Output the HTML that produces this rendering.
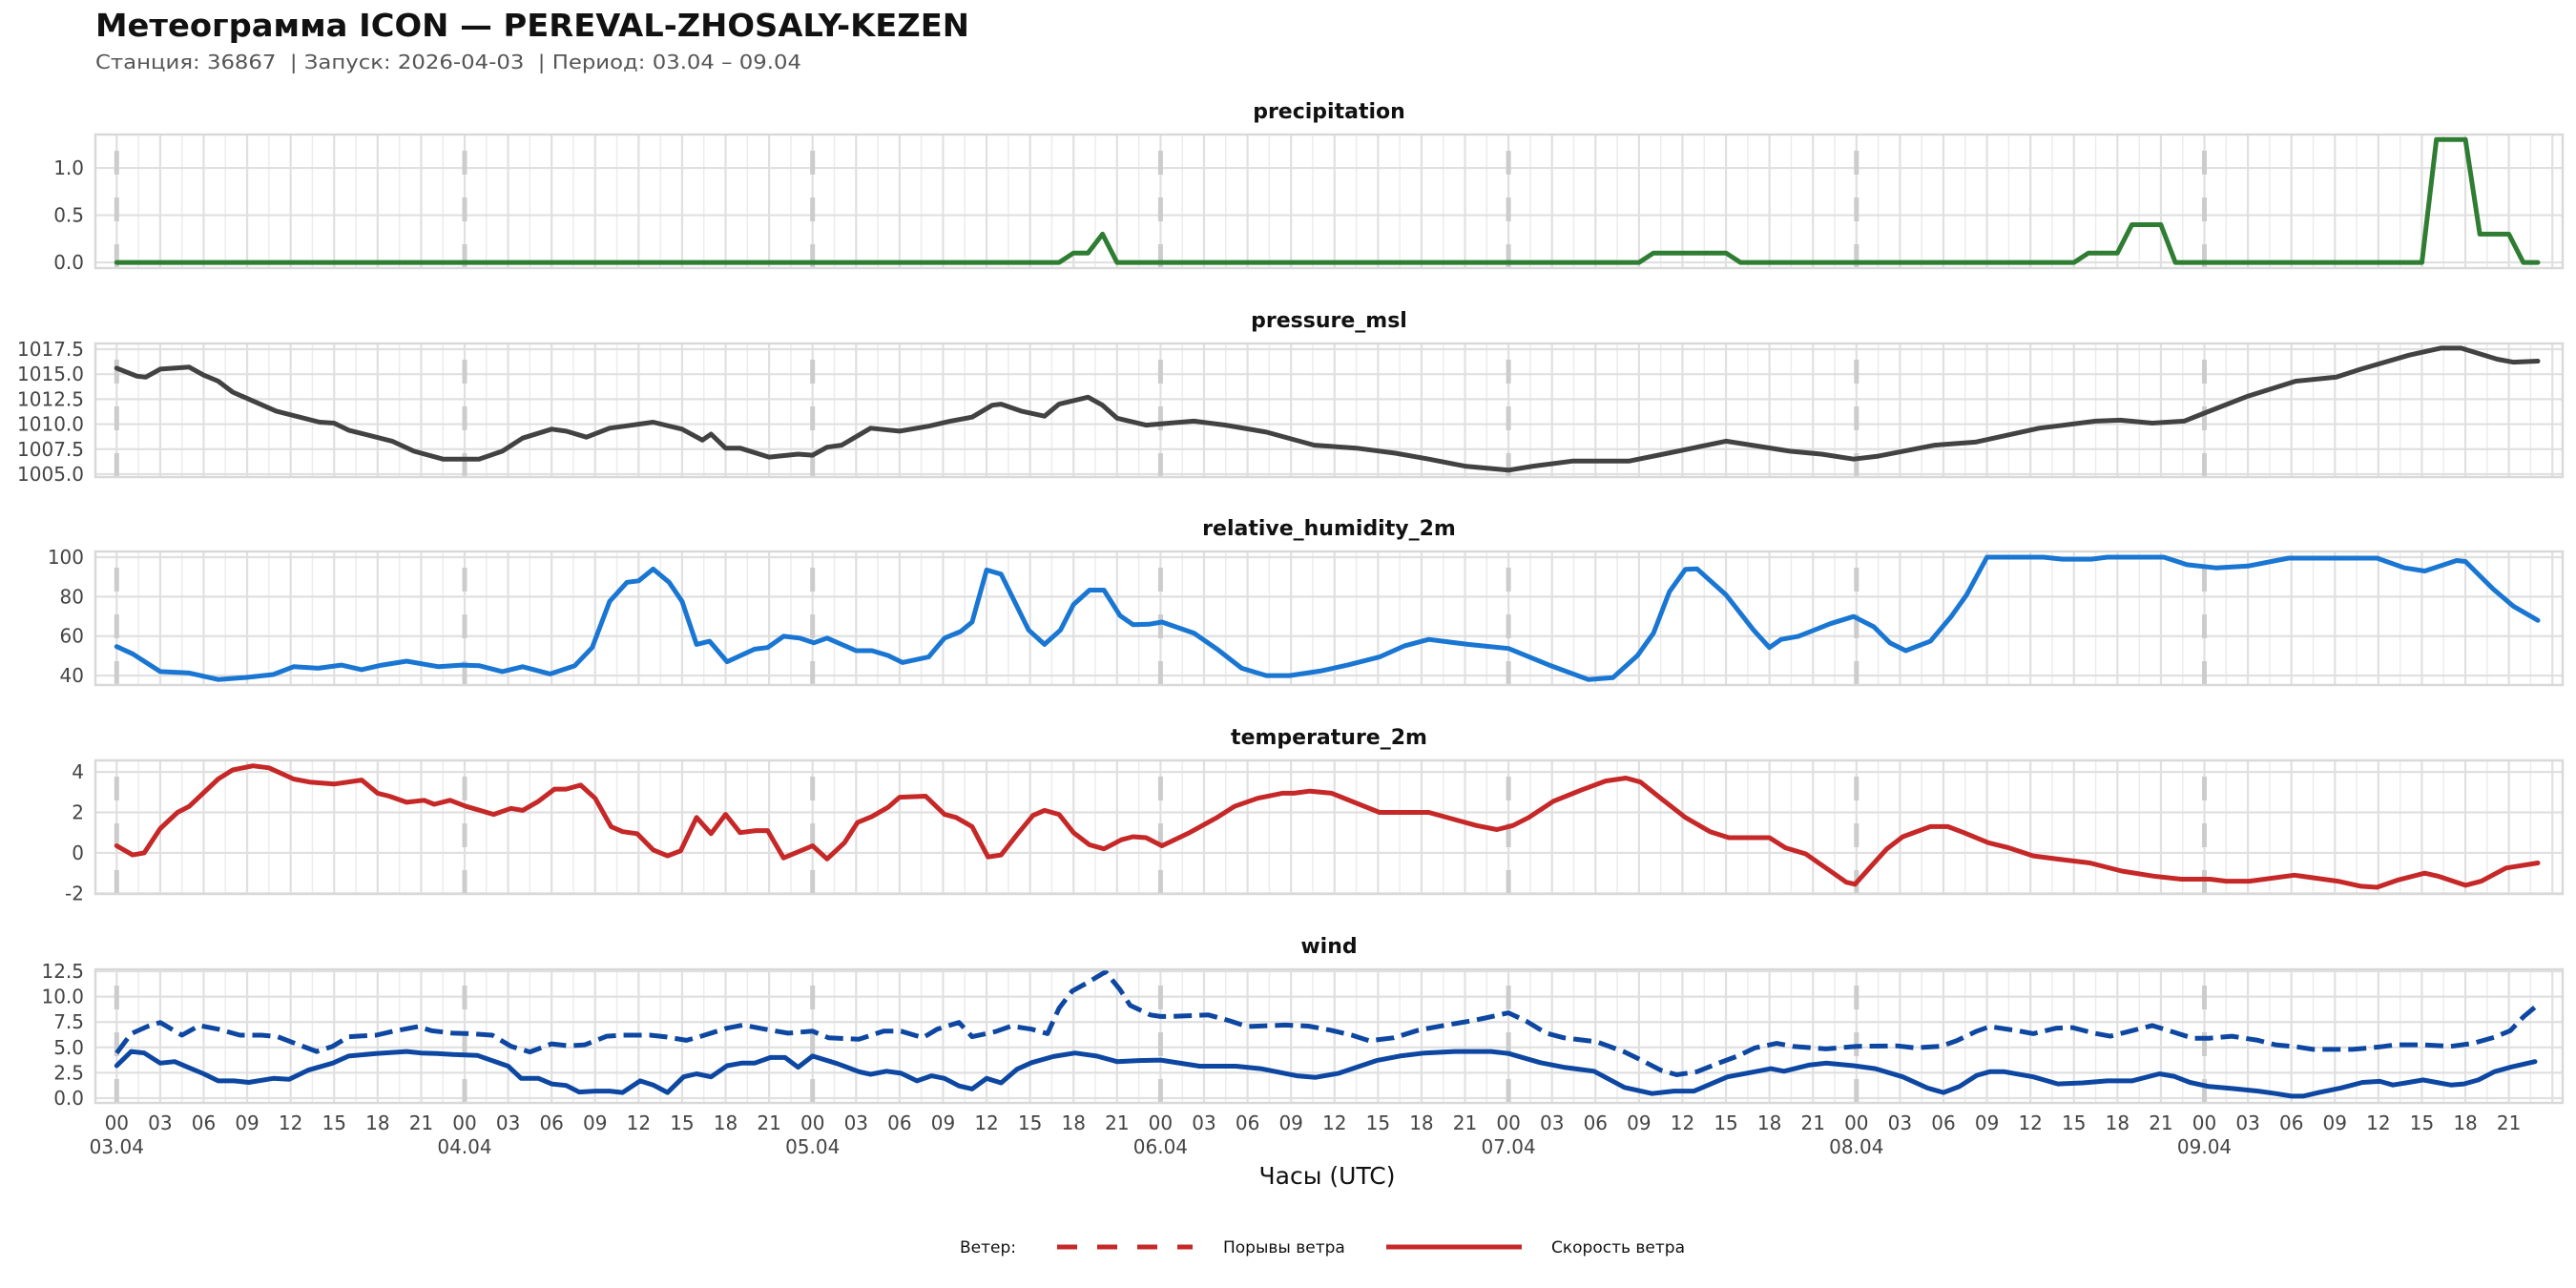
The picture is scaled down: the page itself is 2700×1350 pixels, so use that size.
<!DOCTYPE html>
<html><head><meta charset="utf-8"><title>Meteogram ICON</title>
<style>
html,body{margin:0;padding:0;background:#fff;}
svg{display:block;font-family:"DejaVu Sans","Liberation Sans",sans-serif;}
</style></head>
<body>
<svg id="chart" width="2700" height="1350" viewBox="0 0 2700 1350" xmlns="http://www.w3.org/2000/svg">
<rect x="0" y="0" width="2700" height="1350" fill="#fff"/>
<text x="100" y="38" font-size="33" font-weight="bold" fill="#111" textLength="916" lengthAdjust="spacingAndGlyphs">Метеограмма ICON — PEREVAL-ZHOSALY-KEZEN</text>
<text x="100" y="72" font-size="20" fill="#555" xml:space="preserve" style="white-space:pre" textLength="740" lengthAdjust="spacingAndGlyphs">Станция: 36867  | Запуск: 2026-04-03  | Период: 03.04 – 09.04</text>
<g id="panels"></g>
<text x="1391" y="1241" font-size="25" fill="#111" text-anchor="middle">Часы (UTC)</text>
<g>
<text x="1006" y="1313" font-size="17" fill="#111">Ветер:</text>
<line x1="1108" y1="1307" x2="1250" y2="1307" stroke="#c62828" stroke-width="5" stroke-dasharray="21 21"/>
<text x="1282" y="1313" font-size="17" fill="#111">Порывы ветра</text>
<line x1="1453" y1="1307" x2="1595" y2="1307" stroke="#c62828" stroke-width="5"/>
<text x="1626" y="1313" font-size="17" fill="#111">Скорость ветра</text>
</g>
</svg>
<script>
// ---- data (hours since 03.04 00 UTC) ----
const hourTicks = [0,3,6,9,12,15,18,21,24,27,30,33,36,39,42,45,48,51,54,57,60,63,66,69,72,75,78,81,84,87,90,93,96,99,102,105,108,111,114,117,120,123,126,129,132,135,138,141,144,147,150,153,156,159,162,165];
const hourLabels = ["00","03","06","09","12","15","18","21"];
const dateTicks = [0,24,48,72,96,120,144];
const dateLabels = ["03.04","04.04","05.04","06.04","07.04","08.04","09.04"];

const precipHours = [0,65,66,67,68,69,105,106,111,112,135,136,138,139,141,142,159,160,162,163,165,166,167];
const precipValues = [0,0,0.1,0.1,0.3,0,0,0.1,0.1,0,0,0.1,0.1,0.4,0.4,0,0,1.3,1.3,0.3,0.3,0,0];

const pressureHours = [0,1.4,2,3,5,6,7,8,11,14,15,16,19,20.5,22.5,25,26.6,28,30,31,32.4,34,37,39,40.4,41,42,43,45,47,48,49,50,52,54,56,57.5,59,60.4,61,62.4,64,65,67,68,69,71,72.6,74.3,76.5,79.3,82.6,85.5,88.2,90.5,93,96,97.7,100.4,104.3,107,111,115.4,117.6,119.8,121.5,125.4,128.2,132.6,136.5,138.2,140.4,142.6,144,147,150.3,153.1,154.8,158.1,160.3,161.7,164.2,165.3,167];
const pressureValues = [1015.6,1014.8,1014.7,1015.5,1015.7,1014.9,1014.3,1013.2,1011.3,1010.2,1010.1,1009.4,1008.3,1007.3,1006.5,1006.5,1007.3,1008.6,1009.5,1009.3,1008.7,1009.6,1010.2,1009.5,1008.4,1009,1007.6,1007.6,1006.7,1007,1006.9,1007.7,1007.9,1009.6,1009.3,1009.8,1010.3,1010.7,1011.9,1012,1011.3,1010.8,1012,1012.7,1011.9,1010.6,1009.9,1010.1,1010.3,1009.9,1009.2,1007.9,1007.6,1007.1,1006.5,1005.8,1005.4,1005.8,1006.3,1006.3,1007.1,1008.3,1007.3,1007,1006.5,1006.8,1007.9,1008.2,1009.6,1010.3,1010.4,1010.1,1010.3,1011.1,1012.8,1014.3,1014.7,1015.5,1016.9,1017.6,1017.6,1016.5,1016.2,1016.3];

const humidityHours = [0,1.1,3,5,7,8.9,10.8,12.2,13.9,15.5,16.9,18.3,20,22.2,23.8,25,26.6,28,29.9,31.6,32.8,34,35.2,36,37,38.1,39,40,40.9,42.1,44,44.9,46,47.1,48.1,49,51,52.1,53.2,54.2,56,57.1,58.2,59,60,61,62.9,64,65.1,66,67.1,68.1,69.2,70.1,71.2,72.1,74.3,75.9,77.6,79.3,80.9,83.1,84.9,87.1,88.8,90.5,93.2,96,98.8,101.5,103.2,104.9,106,107.1,108.2,109,111,112.9,114,114.8,116,118.2,119.8,121.2,122.3,123.4,125.1,126.5,127.6,129,132.9,134.2,136.2,137.3,141.2,142.8,144.8,147,149.8,155.9,157.8,159.2,161.4,162,163.9,165.3,167];
const humidityValues = [54.7,51,42,41.3,38,39,40.5,44.5,43.7,45.3,43,45.3,47.3,44.5,45.3,45,42,44.5,40.8,45,54.2,77.6,87.3,88,94,87.3,77.6,55.8,57.4,47,53.4,54.2,59.9,59,56.6,59,52.6,52.6,50.2,46.6,49.4,59,62.3,67.1,93.5,91.4,63.1,55.8,63.1,76,83.3,83.3,70.4,65.8,66,67.1,61.5,53.4,43.7,40,40,42.4,45.3,49.4,55,58.3,55.8,53.7,45.3,38,38.9,50.2,61.5,82.5,93.8,94.1,80.9,63.1,54.2,58.3,59.9,66.3,69.9,64.7,56.6,52.6,57.4,69.6,80.9,100,100,99,99,100,100,96.2,94.6,95.5,99.5,99.5,94.6,93,98.3,97.8,84,75.2,68];

const temperatureHours = [0,1.1,1.9,3,4.2,5,7,8,9.4,10.5,12.2,13.3,15,16.9,18,18.8,20,21.2,21.9,23,24.1,26,27.2,28,29.1,30.2,31,32,33,34.1,34.9,35.9,37,38,38.9,40,41,42,43,44.1,44.9,46,48,49,50.2,51.1,52.1,53.2,54,55.8,57.1,57.9,59,60.1,61,62.1,63.2,64,65,66,67.1,68.1,69.3,70.1,71,72.1,74,75.9,77.1,78.7,80.4,81.2,82.3,83.8,87.1,90.5,93.8,95.2,96.3,97.4,99.1,101,102.7,104.1,105.1,106.5,108.2,109.9,111.2,114,115.1,116.5,118.2,119.3,119.9,120.9,122.1,123.2,125.1,126.3,127.4,129.1,130.5,132.2,134.4,136.1,138.3,140.5,142.4,144.4,145.5,147.1,150.2,153.2,154.8,155.9,157.3,159.2,160.1,162,163.1,164.8,167];
const temperatureValues = [0.35,-0.1,0,1.2,2,2.3,3.65,4.1,4.3,4.2,3.65,3.5,3.4,3.6,2.95,2.8,2.5,2.6,2.4,2.6,2.3,1.9,2.2,2.1,2.55,3.15,3.15,3.35,2.7,1.3,1.05,0.95,0.15,-0.15,0.1,1.75,0.95,1.9,1,1.1,1.1,-0.25,0.35,-0.3,0.5,1.5,1.8,2.25,2.75,2.8,1.9,1.75,1.3,-0.2,-0.1,0.9,1.85,2.1,1.9,1,0.4,0.2,0.65,0.8,0.75,0.35,1,1.75,2.3,2.7,2.95,2.95,3.05,2.95,2,2,1.35,1.15,1.35,1.75,2.55,3.1,3.55,3.7,3.5,2.7,1.75,1.05,0.75,0.75,0.25,-0.05,-0.9,-1.45,-1.55,-0.75,0.2,0.8,1.3,1.3,1,0.5,0.25,-0.15,-0.35,-0.5,-0.9,-1.15,-1.3,-1.3,-1.4,-1.4,-1.1,-1.4,-1.65,-1.7,-1.35,-1,-1.15,-1.6,-1.4,-0.75,-0.5];

const windSpeedHours = [0,1,1.9,3,4,4.9,6,7,8.1,9.1,10.8,11.9,13.2,14.9,16,17.9,20,21,22.1,23.2,24.9,27,27.9,29.1,30,31,31.9,33,34,34.9,36.1,37,38,39.1,40,41,42.1,43.1,44,45.1,46.1,47,48,49.7,51.2,52,53.1,54.1,55.2,56.2,57.1,58.1,59,60,61,62.1,63.1,64.6,66.1,67.6,69,70.5,72,74.7,77.2,78.9,81.4,82.7,84.3,86.9,88.5,90.2,92.3,94.8,96,98.2,99.8,101.9,104,105.9,107.4,108.8,111.1,113,114.1,115,116.7,117.9,119.8,121.3,123.2,124.9,126,127.1,128.3,129.2,130.2,132.2,133.9,135.6,137.3,139,140.9,141.9,143,144.3,145.9,147.7,148.9,150,150.8,151.9,153.4,154.9,156.1,157,157.9,159.1,160,161,161.9,162.9,164,165.1,166.8];
const windSpeedValues = [3.2,4.6,4.45,3.45,3.6,3.05,2.4,1.7,1.7,1.55,1.95,1.85,2.75,3.45,4.15,4.4,4.6,4.45,4.4,4.3,4.2,3.15,1.95,1.95,1.4,1.25,0.6,0.7,0.7,0.55,1.7,1.3,0.55,2.1,2.4,2.1,3.2,3.45,3.45,4,4,3.05,4.15,3.4,2.6,2.35,2.65,2.45,1.7,2.2,1.95,1.2,0.9,1.95,1.5,2.85,3.5,4.1,4.45,4.15,3.6,3.7,3.75,3.15,3.15,2.9,2.2,2.05,2.45,3.7,4.15,4.45,4.6,4.6,4.4,3.5,3.05,2.65,1.05,0.45,0.7,0.7,2.1,2.6,2.9,2.65,3.25,3.45,3.2,2.9,2.1,1,0.55,1.15,2.25,2.6,2.6,2.1,1.4,1.5,1.7,1.7,2.4,2.15,1.55,1.15,0.95,0.7,0.45,0.2,0.2,0.55,1,1.55,1.65,1.3,1.5,1.8,1.55,1.3,1.4,1.8,2.6,3.05,3.6];

const windGustHours = [0,1,2.1,3,4.5,5.7,7,8.5,10,11.1,12.3,13.8,14.9,16,17.9,19.1,20.8,21.7,23.2,24.4,25.9,27.2,28.5,30,31.2,32.3,33.8,34.9,36.8,37.8,39.3,40.2,42.1,43.2,44.7,46.3,48,49.1,51.2,52.9,54.1,55.6,56.6,58.1,59,60.6,61.7,63.1,64.2,65,65.9,67.1,68.2,69.2,69.9,71.3,72,72.6,75.3,76.8,78,80.6,82.2,83.7,85.2,86.4,88.1,89.8,91.7,93.4,94.4,96,97.2,98.6,99.8,102.1,104,105,106.5,107.6,109,110.3,111.8,113,114.5,115.6,117.9,120,122.8,124,125.8,126.9,128.3,129.2,131.1,132.2,133.8,134.9,136.4,137.5,139,140.4,141.9,143.2,144.3,145.9,147.7,148.9,150.4,151.5,154.2,156.1,157.2,159.1,161,162.5,164,165.1,166,167];
const windGustValues = [4.45,6.35,7.05,7.45,6.2,7.15,6.8,6.2,6.2,6.05,5.4,4.6,5.1,6.05,6.2,6.6,7.05,6.65,6.4,6.35,6.2,5.1,4.55,5.35,5.15,5.25,6.1,6.2,6.2,6.05,5.7,6.05,6.9,7.2,6.8,6.4,6.6,5.95,5.8,6.6,6.6,5.95,6.8,7.45,6.05,6.55,7.1,6.8,6.35,8.85,10.55,11.5,12.45,10.7,9.15,8.2,8.05,8.05,8.2,7.6,7.05,7.2,7.1,6.7,6.2,5.65,5.95,6.7,7.2,7.6,7.9,8.4,7.6,6.4,5.95,5.55,4.55,3.85,2.75,2.3,2.6,3.35,4.15,4.95,5.4,5.1,4.85,5.1,5.15,4.95,5.1,5.65,6.6,7.05,6.65,6.35,6.9,6.95,6.4,6.1,6.65,7.15,6.5,5.9,5.9,6.1,5.7,5.25,5.05,4.8,4.8,5.05,5.25,5.25,5.1,5.4,6,6.65,8,9.2];

const precipTicks = [0,0.5,1.0];
const pressureTicks = [1005,1007.5,1010,1012.5,1015,1017.5];
const humidityTicks = [40,60,80,100];
const temperatureTicks = [-2,0,2,4];
const windTicks = [0,2.5,5,7.5,10,12.5];

// ---- layout ----
const NS = "http://www.w3.org/2000/svg";
const PL = 100, PR = 2686, PH = 140;
const X0 = 122.3, PXH = 15.196;
function xScale(h){ return X0 + h*PXH; }
function mk(tag, attrs, parent){
  const e = document.createElementNS(NS, tag);
  for (const k in attrs) e.setAttribute(k, attrs[k]);
  parent.appendChild(e);
  return e;
}
const root = document.getElementById('panels');

const panels = [
  {name:'precipitation', top:141, vmin:-0.06, vmax:1.354, ticks:precipTicks, dec:1},
  {name:'pressure_msl', top:360, vmin:1004.71, vmax:1018.07, ticks:pressureTicks, dec:1},
  {name:'relative_humidity_2m', top:578, vmin:35.2, vmax:102.9, ticks:humidityTicks, dec:0},
  {name:'temperature_2m', top:797, vmin:-2.03, vmax:4.57, ticks:temperatureTicks, dec:0},
  {name:'wind', top:1016, vmin:-0.47, vmax:12.69, ticks:windTicks, dec:1}
];

function drawSeries(g, p, hours, values, color, dash, nm){
  const ys = v => p.top + (p.vmax - v)/(p.vmax - p.vmin)*PH;
  let d = '';
  for (let i=0;i<hours.length;i++) d += (i?'L':'M') + xScale(hours[i]).toFixed(1) + ' ' + ys(values[i]).toFixed(1);
  const path = mk('path', {d:d, fill:'none', stroke:color, 'stroke-width':5, 'stroke-linejoin':'round', 'stroke-linecap':dash?'butt':'round'}, g);
  if (dash) path.setAttribute('stroke-dasharray', dash);
  
  
}

panels.forEach((p, idx) => {
  const g = mk('g', {}, root);
  
  
  const ys = v => p.top + (p.vmax - v)/(p.vmax - p.vmin)*PH;
  const bottom = p.top + PH;
  const t = mk('text', {x:1393, y:p.top-17, 'font-size':22, 'font-weight':'bold', fill:'#111', 'text-anchor':'middle'}, g);
  t.textContent = p.name;
  
  
  for (let h=-1.5; h<=169; h+=1.5){
    const x = xScale(h);
    if (x < PL || x > PR) continue;
    const major = Math.abs(h/3 - Math.round(h/3)) < 1e-6;
    const gl = mk('line', {x1:x, y1:p.top, x2:x, y2:bottom, stroke: major?'#e0e0e0':'#ececec', 'stroke-width': major?2.2:1.5}, g);
    
    
  }
  p.ticks.forEach(v => {
    const y = ys(v);
    const hl = mk('line', {x1:PL, y1:y, x2:PR, y2:y, stroke:'#e0e0e0', 'stroke-width':2.2}, g);
    
    
    const tl = mk('text', {x:88, y:y+7, 'font-size':20, fill:'#444', 'text-anchor':'end'}, g);
    tl.textContent = v.toFixed(p.dec);
    
    
  });
  dateTicks.forEach(h => {
    const x = xScale(h);
    const dl = mk('line', {x1:x, y1:bottom, x2:x, y2:p.top, stroke:'#cccccc', 'stroke-width':5, 'stroke-dasharray':'25 24'}, g);
    
    
  });
  if (idx===0) drawSeries(g, p, precipHours, precipValues, '#2e7d32', null, 'precipitation-line');
  if (idx===1) drawSeries(g, p, pressureHours, pressureValues, '#424242', null, 'pressure-line');
  if (idx===2) drawSeries(g, p, humidityHours, humidityValues, '#1976d2', null, 'humidity-line');
  if (idx===3) drawSeries(g, p, temperatureHours, temperatureValues, '#c62828', null, 'temperature-line');
  if (idx===4){
    drawSeries(g, p, windGustHours, windGustValues, '#0d47a1', '19 8', 'wind-gust-line');
    drawSeries(g, p, windSpeedHours, windSpeedValues, '#0d47a1', null, 'wind-speed-line');
  }
  const fr = mk('rect', {x:PL, y:p.top, width:PR-PL, height:PH, fill:'none', stroke:'#d9d9d9', 'stroke-width':2.5}, g);
  
  
});

const xa = mk('g', {}, root);


hourTicks.forEach((h, i) => {
  const tx = mk('text', {x:xScale(h), y:1184, 'font-size':20, fill:'#444', 'text-anchor':'middle'}, xa);
  tx.textContent = hourLabels[i % hourLabels.length];
  
  
});
dateTicks.forEach((h, i) => {
  const tx = mk('text', {x:xScale(h), y:1209, 'font-size':20, fill:'#444', 'text-anchor':'middle'}, xa);
  tx.textContent = dateLabels[i];
  
  
});
</script>
</body></html>
